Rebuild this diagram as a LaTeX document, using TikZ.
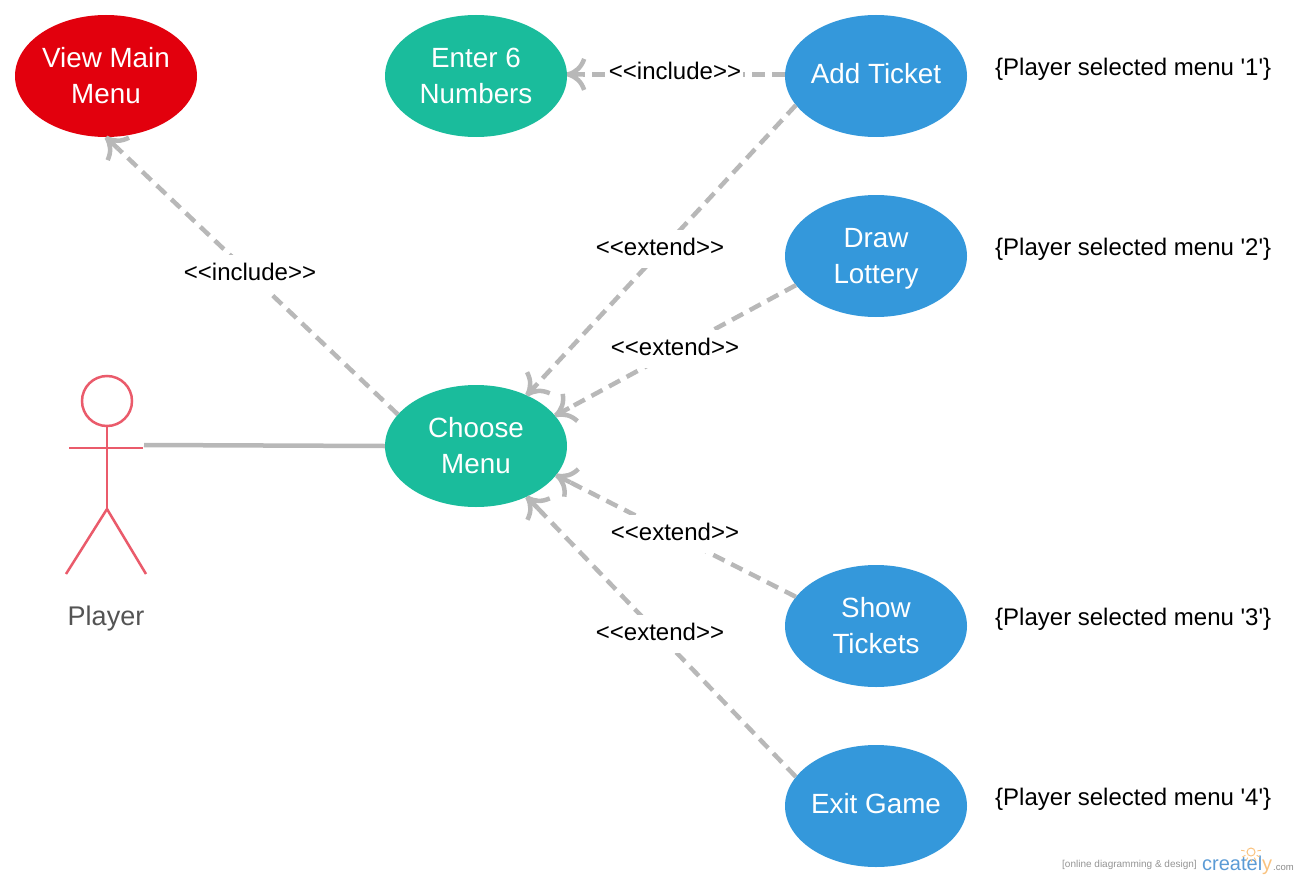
\documentclass[tikz,border=0pt]{standalone}
\usepackage{fontspec}
\setmainfont{Liberation Sans}
\newfontfamily\plainfont{Liberation Sans}
\usetikzlibrary{arrows.meta,shapes.geometric}
\definecolor{ucred}{HTML}{E2000D}
\definecolor{ucgreen}{HTML}{1ABC9C}
\definecolor{ucblue}{HTML}{3498DB}
\definecolor{edgegray}{HTML}{B8B8B8}
\definecolor{actorred}{HTML}{EA5B6B}
\definecolor{logoblue}{HTML}{5B9BD5}
\definecolor{logoorange}{HTML}{F9C27E}
\pgfdeclarearrow{
  name=OpenUse,
  setup code={
    \pgfarrowssettipend{0pt}
    \pgfarrowssetlineend{-16pt}
    \pgfarrowssetvisualbackend{-17pt}
    \pgfarrowssetbackend{-17pt}
    \pgfarrowshullpoint{0pt}{0pt}
    \pgfarrowsupperhullpoint{-17pt}{15pt}
  },
  drawing code={
    \pgfsetdash{}{0pt}
    \pgfsetlinewidth{4.5pt}
    \pgfsetbuttcap
    \pgfpathmoveto{\pgfqpoint{-17pt}{15.5pt}}
    \pgfpathcurveto{\pgfqpoint{-14pt}{7pt}}{\pgfqpoint{-9pt}{2.5pt}}{\pgfqpoint{-1pt}{0pt}}
    \pgfpathmoveto{\pgfqpoint{-17pt}{-15.5pt}}
    \pgfpathcurveto{\pgfqpoint{-14pt}{-7pt}}{\pgfqpoint{-9pt}{-2.5pt}}{\pgfqpoint{-1pt}{0pt}}
    \pgfpathmoveto{\pgfqpoint{0pt}{0pt}}
    \pgfpathlineto{\pgfqpoint{-16pt}{0pt}}
    \pgfusepathqstroke
  },
}
\tikzset{
  usecase/.style={ellipse,draw=none,minimum width=182pt,minimum height=122pt,inner sep=0pt},
  casetext/.style={inner sep=0pt,text=white,align=center,font=\fontsize{27.8pt}{36pt}\selectfont},
  relation/.style={draw=edgegray,line width=4.5pt,dash pattern=on 12.5pt off 7.5pt,-{OpenUse}},
  assoc/.style={draw=edgegray,line width=4.5pt},
  stereotype/.style={fill=white,inner xsep=2pt,inner ysep=0pt,text height=25pt,text depth=13pt,anchor=base,font=\fontsize{24pt}{26pt}\selectfont},
  constraint/.style={inner sep=0pt,font=\plainfont\fontsize{24pt}{26pt}\selectfont},
  actorline/.style={draw=actorred,line width=2.5pt},
}
\begin{document}
\begin{tikzpicture}[x=1pt,y=-1pt]
\useasboundingbox (0,0) rectangle (1300,880);
\node[usecase,fill=ucred,label={[casetext]center:View Main\\Menu}] (view) at (106,76) {};
\node[usecase,fill=ucgreen,label={[casetext]center:Enter 6\\Numbers}] (enter) at (476,76) {};
\node[usecase,fill=ucblue,label={[casetext,yshift=2pt]center:Add Ticket}] (add) at (876,76) {};
\node[usecase,fill=ucblue,label={[casetext,yshift=-3pt]center:Draw\\Lottery}] (drawl) at (876,256) {};
\node[usecase,fill=ucgreen,label={[casetext]center:Choose\\Menu}] (choose) at (476,446) {};
\node[usecase,fill=ucblue,label={[casetext]center:Show\\Tickets}] (show) at (876,626) {};
\node[usecase,fill=ucblue,label={[casetext,yshift=2pt]center:Exit Game}] (exit) at (876,806) {};
% actor
\coordinate (hand) at (144,445);
\draw[actorline] (107,401) circle (25);
\draw[actorline] (107,426) -- (107,509);
\draw[actorline] (69,448) -- (143,448);
\draw[actorline] (66,574) -- (107,509) -- (146,574);
\node[text=black!67,font=\fontsize{27pt}{30pt}\selectfont] (player) at (106,619) {Player};
% connectors
\draw[assoc] (hand) -- (choose.west);
\draw[relation] (choose.158) -- (view.south);
\draw[relation] (add.179) -- (enter.1);
\draw[relation] (add.200) -- (choose.45);
\draw[relation] (drawl.200) -- (choose.21);
\draw[relation] (show.160) -- (choose.-20);
\draw[relation] (exit.160) -- (choose.-45);
% labels
\node[stereotype] (l1) at (250,280) {<{}<include>{}>};
\node[stereotype] (l2) at (675,80) {<{}<include>{}>};
\node[stereotype] (l3) at (660,255) {<{}<extend>{}>};
\node[stereotype] (l4) at (675,355) {<{}<extend>{}>};
\node[stereotype] (l5) at (675,540) {<{}<extend>{}>};
\node[stereotype] (l6) at (660,640) {<{}<extend>{}>};
\node[constraint,anchor=west] (c1) at (995,69) {\{Player selected menu '1'\}};
\node[constraint,anchor=west] (c2) at (995,249) {\{Player selected menu '2'\}};
\node[constraint,anchor=west] (c3) at (995,619) {\{Player selected menu '3'\}};
\node[constraint,anchor=west] (c4) at (995,799) {\{Player selected menu '4'\}};
% logo
\node[inner sep=0pt,anchor=west,text=black!42,font=\fontsize{10pt}{10pt}\selectfont] (tag) at (1062,865) {[online diagramming \& design]};
\node[inner sep=0pt,anchor=base west,font=\fontsize{20pt}{20pt}\selectfont] (logo) at (1202,870) {\textcolor{logoblue}{createl}\textcolor{logoorange}{y}};
\node[inner sep=0pt,anchor=base west,text=black!45,font=\fontsize{9.5pt}{10pt}\selectfont] (com) at (1273,870) {.com};
\draw[logoorange,line width=1pt] (1251,852) circle (4);
\foreach \a in {-10,30,60,90,120,150,190}
  \draw[logoorange,line width=.9pt] (1251,852) ++(\a:6.5) -- ++(\a:3.5);
\end{tikzpicture}
\end{document}
